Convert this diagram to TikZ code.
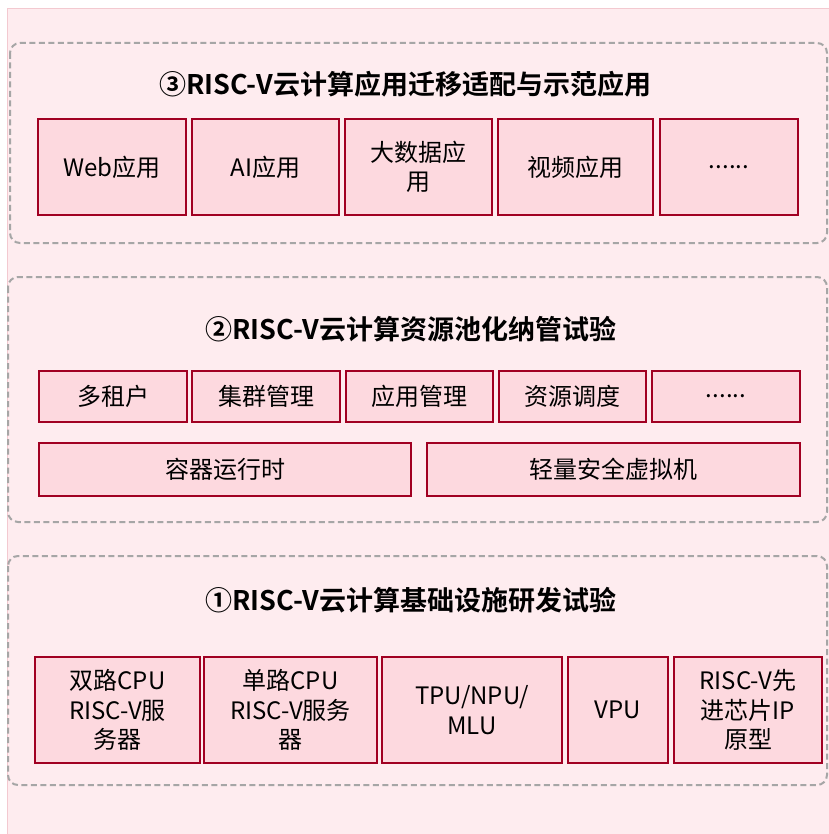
\documentclass[tikz,border=0pt]{standalone}
\usepackage{fontspec}
\setmainfont{Noto Sans CJK SC}[BoldFont={Noto Sans CJK SC Bold}]
\begin{document}
\begin{tikzpicture}[x=1pt,y=-1pt,
  bgfill/.style={fill=bgpink, draw=bgline, line width=0.8pt},
  group/.style={draw=dashgray, line width=2pt, dash pattern=on 6pt off 3.5pt, rounded corners=10pt},
  item/.style={draw=boxred, fill=boxpink, line width=2.8pt, align=center, font=\fontsize{24}{29.5}\selectfont, inner sep=0pt},
  ttl/.style={font=\fontsize{27}{31}\selectfont\bfseries, inner sep=0pt}]
\definecolor{bgpink}{HTML}{FEECEF}
\definecolor{bgline}{HTML}{F3C9D0}
\definecolor{dashgray}{HTML}{A6A6A6}
\definecolor{boxred}{HTML}{A10022}
\definecolor{boxpink}{HTML}{FDD9DF}
\useasboundingbox (0,0) rectangle (828,834);
\fill[white] (0,0) rectangle (828,834);
\path[bgfill] (7,8) rectangle (830,840);
% groups
\path[group] (10,43) rectangle (827,243);
\path[group] (8,277) rectangle (827,522);
\path[group] (8,556) rectangle (827,785);
% titles
\node[ttl] (t3) at (405,84) {③RISC-V云计算应用迁移适配与示范应用};
\node[ttl] (t2) at (411,329) {②RISC-V云计算资源池化纳管试验};
\node[ttl] (t1) at (411,600) {①RISC-V云计算基础设施研发试验};
% layer 3
\node[item, minimum width=148pt, minimum height=96pt] (web) at (112,167) {Web应用};
\node[item, minimum width=147pt, minimum height=96pt] (ai) at (265.5,167) {AI应用};
\node[item, minimum width=147pt, minimum height=96pt] (big) at (418.5,167) {大数据应\\用};
\node[item, minimum width=155pt, minimum height=96pt] (video) at (575.5,167) {视频应用};
\node[item, minimum width=138pt, minimum height=96pt] (more3) at (729,167) {......};
% layer 2
\node[item, minimum width=148pt, minimum height=51pt] (mt) at (113,396.5) {多租户};
\node[item, minimum width=148pt, minimum height=51pt] (cl) at (266,396.5) {集群管理};
\node[item, minimum width=147pt, minimum height=51pt] (am) at (419.5,396.5) {应用管理};
\node[item, minimum width=147pt, minimum height=51pt] (rs) at (572.5,396.5) {资源调度};
\node[item, minimum width=148pt, minimum height=51pt] (more2) at (726,396.5) {......};
\node[item, minimum width=372pt, minimum height=53pt] (cr) at (225,469.5) {容器运行时};
\node[item, minimum width=373pt, minimum height=53pt] (vm) at (613.5,469.5) {轻量安全虚拟机};
% layer 1
\node[item, minimum width=165pt, minimum height=106pt] (dual) at (117.5,710) {双路CPU\\RISC-V服\\务器};
\node[item, minimum width=173pt, minimum height=106pt] (single) at (290.5,710) {单路CPU\\RISC-V服务\\器};
\node[item, minimum width=180pt, minimum height=106pt] (tpu) at (472,710) {TPU/NPU/\\MLU};
\node[item, minimum width=100pt, minimum height=106pt] (vpu) at (618,710) {VPU};
\node[item, minimum width=148pt, minimum height=106pt] (ip) at (748,710) {RISC-V先\\进芯片IP\\原型};
\end{tikzpicture}
\end{document}
